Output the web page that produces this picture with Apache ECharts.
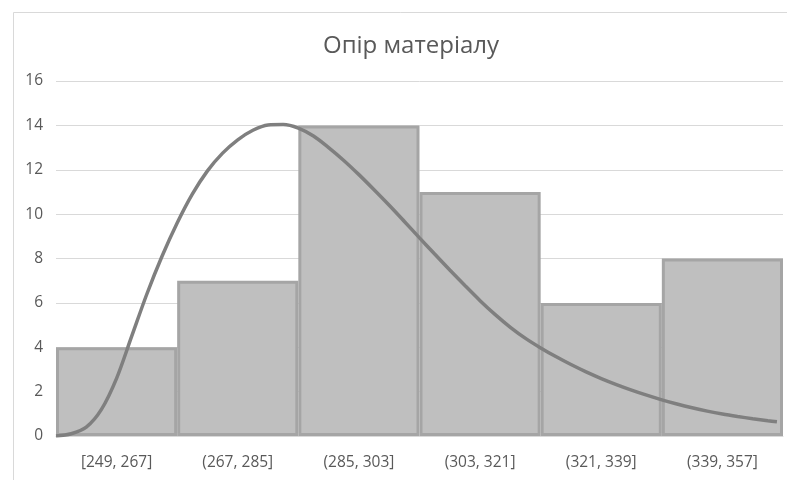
<!DOCTYPE html>
<html><head><meta charset="utf-8">
<script src="https://cdn.jsdelivr.net/npm/echarts@6/dist/echarts.min.js"></script>
<style>html,body{margin:0;padding:0;background:#fff}#c{width:787px;height:480px}</style>
</head><body><div id="c"></div>
<script>
const title = 'Опір матеріалу';
const categories = ['[249, 267]', '(267, 285]', '(285, 303]', '(303, 321]', '(321, 339]', '(339, 357]'];
const counts = [4, 7, 14, 11, 6, 8];
const yTicks = [0, 2, 4, 6, 8, 10, 12, 14, 16];
// curve points: position in bin units (0..6), value
const curveX = [0, 0.125, 0.25, 0.375, 0.5, 0.625, 0.75, 0.875, 1.0, 1.125, 1.25, 1.375, 1.5, 1.625, 1.75, 1.875,
  2.0, 2.125, 2.25, 2.375, 2.5, 2.625, 2.75, 2.875, 3.0, 3.125, 3.25, 3.375, 3.5, 3.625, 3.75, 3.875,
  4.0, 4.125, 4.25, 4.375, 4.5, 4.625, 4.75, 4.875, 5.0, 5.125, 5.25, 5.375, 5.5, 5.625, 5.75, 5.875, 5.95];
const curveY = [0, 0.1, 0.4, 1.2, 2.6, 4.5, 6.4, 8.1, 9.6, 10.9, 11.95, 12.75, 13.35, 13.78, 14.02, 14.04,
  13.88, 13.52, 13.0, 12.42, 11.78, 11.1, 10.4, 9.67, 8.93, 8.2, 7.48, 6.78, 6.1, 5.47, 4.9, 4.4,
  3.97, 3.58, 3.22, 2.89, 2.59, 2.32, 2.07, 1.84, 1.63, 1.44, 1.27, 1.12, 0.99, 0.88, 0.78, 0.69, 0.64];

const chart = echarts.init(document.getElementById('c'), null, {renderer: 'canvas'});
const font = '"Open Sans", "DejaVu Sans", sans-serif';
chart.setOption({
  animation: false,
  backgroundColor: '#fff',
  title: {
    text: title, left: 406, top: 29, textAlign: 'center',
    textStyle: {fontFamily: font, fontSize: 24, fontWeight: 'normal', color: '#595959'}
  },
  graphic: [{type: 'rect', shape: {x: 13.5, y: 12.5, width: 800, height: 500},
    style: {fill: 'none', stroke: '#D9D9D9', lineWidth: 1}, z: -1}],
  grid: {left: 56, right: 4, top: 81, bottom: 44, containLabel: false},
  xAxis: [{
    type: 'category', data: categories,
    axisLine: {lineStyle: {color: '#D9D9D9', width: 1}},
    axisTick: {show: false},
    axisLabel: {fontFamily: font, fontSize: 15.5, color: '#595959', margin: 19}
  }, {
    type: 'value', min: 0, max: 6, show: false
  }],
  yAxis: {
    type: 'value', min: yTicks[0], max: yTicks[yTicks.length - 1], interval: 2,
    axisLine: {show: false}, axisTick: {show: false},
    axisLabel: {fontFamily: font, fontSize: 15.5, color: '#595959', margin: 13},
    splitLine: {lineStyle: {color: '#D9D9D9', width: 1}}
  },
  series: [{
    type: 'bar', data: counts, xAxisIndex: 0,
    barCategoryGap: '0%',
    itemStyle: {color: '#BFBFBF', borderColor: '#A5A5A5', borderWidth: 3},
    z: 2
  }, {
    type: 'line', xAxisIndex: 1, smooth: 0.3, symbol: 'none',
    data: curveX.map((x, i) => [x, curveY[i]]),
    lineStyle: {color: '#7F7F7F', width: 3.5},
    z: 3
  }]
});
</script></body></html>
